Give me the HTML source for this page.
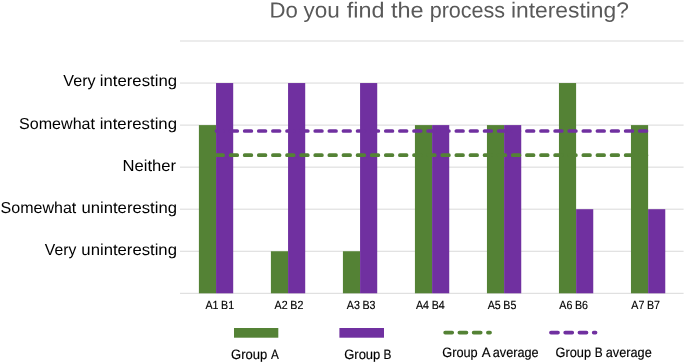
<!DOCTYPE html>
<html>
<head>
<meta charset="utf-8">
<title>Do you find the process interesting?</title>
<style>
html,body{margin:0;padding:0;background:#ffffff;}
body{width:685px;height:363px;overflow:hidden;font-family:"Liberation Sans",sans-serif;}
svg{display:block;position:absolute;left:0;top:0;will-change:transform;}
text{font-family:"Liberation Sans",sans-serif;text-rendering:geometricPrecision;}
</style>
</head>
<body>
<svg width="685" height="363" viewBox="0 0 685 363">
  <rect x="0" y="0" width="685" height="363" fill="#ffffff"/>

  <!-- gridlines -->
  <g stroke="#d9d9d9" stroke-width="1" fill="none">
    <line x1="180" y1="41.00" x2="683.6" y2="41.00"/>
    <line x1="180" y1="83.05" x2="683.6" y2="83.05"/>
    <line x1="180" y1="125.10" x2="683.6" y2="125.10"/>
    <line x1="180" y1="167.15" x2="683.6" y2="167.15"/>
    <line x1="180" y1="209.20" x2="683.6" y2="209.20"/>
    <line x1="180" y1="251.25" x2="683.6" y2="251.25"/>
    <line x1="180" y1="293.30" x2="683.6" y2="293.30"/>
  </g>

  <!-- bars: Group A (green) -->
  <g fill="#548235">
    <rect x="198.90" y="125.10" width="17.15" height="168.20"/>
    <rect x="270.91" y="251.25" width="17.15" height="42.05"/>
    <rect x="342.92" y="251.25" width="17.15" height="42.05"/>
    <rect x="414.93" y="125.10" width="17.15" height="168.20"/>
    <rect x="486.94" y="125.10" width="17.15" height="168.20"/>
    <rect x="558.95" y="83.05" width="17.15" height="210.25"/>
    <rect x="630.96" y="125.10" width="17.15" height="168.20"/>
  </g>
  <!-- bars: Group B (purple) -->
  <g fill="#7030a0">
    <rect x="216.05" y="83.05" width="17.15" height="210.25"/>
    <rect x="288.06" y="83.05" width="17.15" height="210.25"/>
    <rect x="360.07" y="83.05" width="17.15" height="210.25"/>
    <rect x="432.08" y="125.10" width="17.15" height="168.20"/>
    <rect x="504.09" y="125.10" width="17.15" height="168.20"/>
    <rect x="576.10" y="209.20" width="17.15" height="84.10"/>
    <rect x="648.11" y="209.20" width="17.15" height="84.10"/>
  </g>

  <!-- average lines -->
  <g fill="none" stroke-width="3.7" stroke-linecap="round" stroke-dasharray="6.7 7.41">
    <line x1="216.45" y1="155.2" x2="646.45" y2="155.2" stroke="#548235"/>
    <line x1="216.45" y1="131" x2="646.45" y2="131" stroke="#7030a0"/>
  </g>

  <!-- LABELS-BEGIN -->
  <text y="17.5" font-size="21.7" fill="#595959" transform="rotate(0.03 449.2 17.5)"><tspan x="269.57" textLength="28.33" lengthAdjust="spacingAndGlyphs">Do</tspan> <tspan x="303.60" textLength="36.26" lengthAdjust="spacingAndGlyphs">you</tspan> <tspan x="346.70" textLength="37.71" lengthAdjust="spacingAndGlyphs">find</tspan> <tspan x="390.90" textLength="32.65" lengthAdjust="spacingAndGlyphs">the</tspan> <tspan x="429.65" textLength="75.52" lengthAdjust="spacingAndGlyphs">process</tspan> <tspan x="510.97" textLength="117.89" lengthAdjust="spacingAndGlyphs">interesting?</tspan></text>
  <text y="86" font-size="15.9" fill="#000000"><tspan x="63.30" textLength="32.30" lengthAdjust="spacingAndGlyphs">Very</tspan> <tspan x="99.75" textLength="77.29" lengthAdjust="spacingAndGlyphs">interesting</tspan></text>
  <text y="129" font-size="15.9" fill="#000000"><tspan x="19.10" textLength="75.85" lengthAdjust="spacingAndGlyphs">Somewhat</tspan> <tspan x="99.65" textLength="77.39" lengthAdjust="spacingAndGlyphs">interesting</tspan></text>
  <text y="171" font-size="15.9" fill="#000000"><tspan x="122.50" textLength="53.58" lengthAdjust="spacingAndGlyphs">Neither</tspan></text>
  <text y="213" font-size="15.9" fill="#000000"><tspan x="0.55" textLength="75.75" lengthAdjust="spacingAndGlyphs">Somewhat</tspan> <tspan x="81.46" textLength="95.48" lengthAdjust="spacingAndGlyphs">uninteresting</tspan></text>
  <text y="255" font-size="15.9" fill="#000000"><tspan x="44.80" textLength="31.50" lengthAdjust="spacingAndGlyphs">Very</tspan> <tspan x="81.36" textLength="95.58" lengthAdjust="spacingAndGlyphs">uninteresting</tspan></text>
  <text y="359" font-size="13.6" fill="#000000" stroke="#000000" stroke-width="0.15"><tspan x="231.09" textLength="36.24" lengthAdjust="spacingAndGlyphs">Group</tspan> <tspan x="270.90" textLength="7.84" lengthAdjust="spacingAndGlyphs">A</tspan></text>
  <text y="359" font-size="13.6" fill="#000000" stroke="#000000" stroke-width="0.15"><tspan x="344.19" textLength="36.14" lengthAdjust="spacingAndGlyphs">Group</tspan> <tspan x="383.57" textLength="7.93" lengthAdjust="spacingAndGlyphs">B</tspan></text>
  <text y="357" font-size="13.6" fill="#000000" stroke="#000000" stroke-width="0.15"><tspan x="442.30" textLength="35.41" lengthAdjust="spacingAndGlyphs">Group</tspan> <tspan x="481.80" textLength="8.14" lengthAdjust="spacingAndGlyphs">A</tspan> <tspan x="492.80" textLength="45.81" lengthAdjust="spacingAndGlyphs">average</tspan></text>
  <text y="357" font-size="13.6" fill="#000000" stroke="#000000" stroke-width="0.15"><tspan x="555.50" textLength="35.52" lengthAdjust="spacingAndGlyphs">Group</tspan> <tspan x="594.67" textLength="7.93" lengthAdjust="spacingAndGlyphs">B</tspan> <tspan x="605.80" textLength="45.91" lengthAdjust="spacingAndGlyphs">average</tspan></text>
  <text y="309" font-size="11.8" fill="#000000" stroke="#000000" stroke-width="0.15"><tspan x="205.40" textLength="13.06" lengthAdjust="spacingAndGlyphs">A1</tspan> <tspan x="221.07" textLength="13.06" lengthAdjust="spacingAndGlyphs">B1</tspan></text>
  <text y="309" font-size="11.8" fill="#000000" stroke="#000000" stroke-width="0.15"><tspan x="274.60" textLength="13.06" lengthAdjust="spacingAndGlyphs">A2</tspan> <tspan x="290.27" textLength="13.06" lengthAdjust="spacingAndGlyphs">B2</tspan></text>
  <text y="309" font-size="11.8" fill="#000000" stroke="#000000" stroke-width="0.15"><tspan x="346.80" textLength="13.06" lengthAdjust="spacingAndGlyphs">A3</tspan> <tspan x="362.47" textLength="13.06" lengthAdjust="spacingAndGlyphs">B3</tspan></text>
  <text y="309" font-size="11.8" fill="#000000" stroke="#000000" stroke-width="0.15"><tspan x="416.00" textLength="13.06" lengthAdjust="spacingAndGlyphs">A4</tspan> <tspan x="431.67" textLength="13.06" lengthAdjust="spacingAndGlyphs">B4</tspan></text>
  <text y="309" font-size="11.8" fill="#000000" stroke="#000000" stroke-width="0.15"><tspan x="487.70" textLength="13.06" lengthAdjust="spacingAndGlyphs">A5</tspan> <tspan x="503.37" textLength="13.06" lengthAdjust="spacingAndGlyphs">B5</tspan></text>
  <text y="309" font-size="11.8" fill="#000000" stroke="#000000" stroke-width="0.15"><tspan x="559.30" textLength="13.06" lengthAdjust="spacingAndGlyphs">A6</tspan> <tspan x="574.97" textLength="13.06" lengthAdjust="spacingAndGlyphs">B6</tspan></text>
  <text y="309" font-size="11.8" fill="#000000" stroke="#000000" stroke-width="0.15"><tspan x="631.30" textLength="13.06" lengthAdjust="spacingAndGlyphs">A7</tspan> <tspan x="646.97" textLength="13.06" lengthAdjust="spacingAndGlyphs">B7</tspan></text>
  <!-- LABELS-END -->

  <!-- legend -->
  <rect x="234" y="328" width="44.3" height="9.7" fill="#548235"/>
  <rect x="339.4" y="328" width="44.6" height="9.7" fill="#7030a0"/>
  <g fill="none" stroke-width="3.7" stroke-linecap="round" stroke-dasharray="7.05 7.2">
    <line x1="445.15" y1="332.6" x2="490.05" y2="332.6" stroke="#548235"/>
    <line x1="550.95" y1="332.6" x2="595.55" y2="332.6" stroke="#7030a0"/>
  </g>

</svg>
</body>
</html>
